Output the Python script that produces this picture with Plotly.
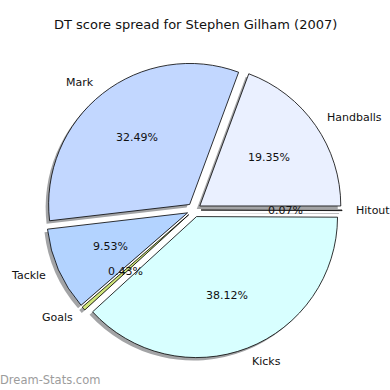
import math
import plotly.graph_objects as go

# ---- data ----
labels = ["Handballs", "Mark", "Tackle", "Goals", "Kicks", "Hitout"]
values = [19.35, 32.49, 9.53, 0.43, 38.12, 0.07]
colors = ["#eaf0ff", "#c2d7ff", "#b3d3ff", "#cfe57a", "#d8ffff", "#d0d0d0"]
title_text = "DT score spread for Stephen Gilham (2007)"
watermark = "Dream-Stats.com"

# ---- layout geometry (pixels) ----
W = H = 390
CX, CY = 194.0, 210.0     # pie centre
R = 141.0                 # pie radius
PULL = 0.05
SHADOW = 3.0
LABEL_DIST = 1.1
PCT_DIST = 0.6

box = 2 * R * (1 + PULL)
total = sum(values)
# plotly puts the first counterclockwise slice *before* the rotation point,
# so shift so that slice 1 starts at 3 o'clock
rot = 90 - 360 * values[0] / total


def dom(cx, cy):
    return dict(x=[(cx - box / 2) / W, (cx + box / 2) / W],
                y=[1 - (cy + box / 2) / H, 1 - (cy - box / 2) / H])


fig = go.Figure()
# shadow
fig.add_trace(go.Pie(labels=labels, values=values, sort=False, direction="counterclockwise",
                     rotation=rot, pull=[PULL] * len(values), textinfo="none", hoverinfo="skip",
                     marker=dict(colors=["#a3a4a6"] * len(values), line=dict(width=0)),
                     domain=dom(CX - SHADOW, CY + SHADOW), showlegend=False))
# main pie
fig.add_trace(go.Pie(labels=labels, values=values, sort=False, direction="counterclockwise",
                     rotation=rot, pull=[PULL] * len(values), textinfo="none",
                     marker=dict(colors=colors, line=dict(color="black", width=0.8)),
                     domain=dom(CX, CY), showlegend=False))

ann = []
start = 0.0
for lab, v in zip(labels, values):
    frac = v / total
    mid = math.radians((start + frac / 2) * 360)
    start += frac
    ex = CX + PULL * R * math.cos(mid)
    ey = CY - PULL * R * math.sin(mid)
    lx = ex + LABEL_DIST * R * math.cos(mid)
    ly = ey - LABEL_DIST * R * math.sin(mid)
    px = ex + PCT_DIST * R * math.cos(mid)
    py = ey - PCT_DIST * R * math.sin(mid)
    right = math.cos(mid) > 0
    ann.append(dict(x=lx / W, y=1 - ly / H, xref="paper", yref="paper", text=lab,
                    showarrow=False, xanchor="left" if right else "right",
                    xshift=-2 if right else 2,
                    yanchor="middle", font=dict(size=11, color="#111")))
    ann.append(dict(x=px / W, y=1 - py / H, xref="paper", yref="paper", text=f"{v:.2f}%",
                    showarrow=False, xanchor="center", yanchor="middle",
                    font=dict(size=11, color="#111")))

ann.append(dict(x=195 / W, y=1 - 25 / H, xref="paper", yref="paper", text=title_text,
                showarrow=False, xanchor="center", yanchor="middle",
                font=dict(size=13, color="#111")))
ann.append(dict(x=0, y=1 - 380 / H, xref="paper", yref="paper", text=watermark,
                showarrow=False, xanchor="left", yanchor="middle",
                font=dict(size=11.5, color="#9c9c9c", family="DejaVu Sans"), xshift=-2))

fig.update_layout(width=W, height=H, margin=dict(l=0, r=0, t=0, b=0),
                  paper_bgcolor="white", plot_bgcolor="white",
                  font=dict(family="DejaVu Sans"), annotations=ann)

fig.write_html("out.html", config={"displayModeBar": False},
               post_script="document.body.style.margin='0px';")
